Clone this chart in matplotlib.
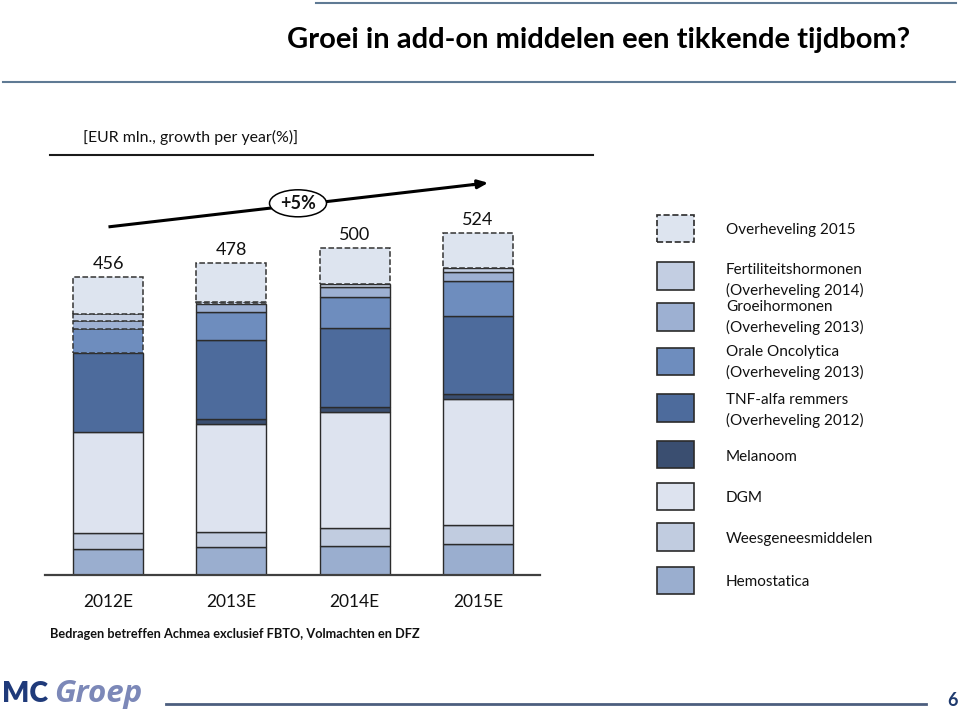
import matplotlib
matplotlib.use("Agg")
import matplotlib.pyplot as plt
from matplotlib.patches import Rectangle, Ellipse
from matplotlib.lines import Line2D
import numpy as np

plt.rcParams['font.family'] = ['Lato', 'DejaVu Sans']

# ---------------- data ----------------
years = ["2012E", "2013E", "2014E", "2015E"]
totals = [456, 478, 500, 524]

hemostatica = [39.4, 42.4, 44.4, 47.5]
weesgenees = [24.5, 23.9, 27.1, 28.6]
dgm = [155.7, 165.0, 177.7, 193.5]
melanoom = [0.0, 8.3, 8.6, 7.7]
tnf = [120.1, 120.0, 120.1, 120.0]
orale = [37.2, 42.9, 48.4, 53.6]
groei = [12.7, 13.3, 14.4, 13.8]
fertil = [10.3, 2.0, 4.6, 5.2]
overh2015 = [56.2, 60.2, 55.2, 54.1]

series = [
    ("Hemostatica", hemostatica, "#9AAECF"),
    ("Weesgeneesmiddelen", weesgenees, "#C1CCE0"),
    ("DGM", dgm, "#DDE3EF"),
    ("Melanoom", melanoom, "#3A4E70"),
    ("TNF-alfa remmers\n(Overheveling 2012)", tnf, "#4D6B9C"),
    ("Orale Oncolytica\n(Overheveling 2013)", orale, "#6E8DBE"),
    ("Groeihormonen\n(Overheveling 2013)", groei, "#9DB0D2"),
    ("Fertiliteitshormonen\n(Overheveling 2014)", fertil, "#C3CEE2"),
    ("Overheveling 2015", overh2015, "#DDE4EF"),
]
# which segments are drawn dashed (not yet transferred)
dashed = {
    "Orale Oncolytica\n(Overheveling 2013)": [True, False, False, False],
    "Groeihormonen\n(Overheveling 2013)": [True, False, False, False],
    "Fertiliteitshormonen\n(Overheveling 2014)": [True, True, False, False],
    "Overheveling 2015": [True, True, True, True],
}

W, H = 960, 711
fig = plt.figure(figsize=(9.6, 7.11), dpi=100)

def fx(x):
    return x / W

def fy(y):
    return 1 - y / H

# ---------------- axes ----------------
ax_l, ax_r, ax_b, ax_t = 45, 540, 575, 170
ax = fig.add_axes([fx(ax_l), fy(ax_b), (ax_r - ax_l) / W, (ax_b - ax_t) / H])
ax.set_xlim(-0.511, 3.503)
ax.set_ylim(0, 405 * 1.532)
for s in ["top", "right", "left"]:
    ax.spines[s].set_visible(False)
ax.spines["bottom"].set_color("#404040")
ax.spines["bottom"].set_linewidth(1.6)
ax.set_yticks([])
x = np.arange(len(years))
ax.set_xticks(x)
ax.set_xticklabels(years, fontsize=12.5, color="#111111")
ax.tick_params(axis="x", length=0, pad=14)

bw = 0.568
bottom = np.zeros(len(years))
for name, vals, col in series:
    vals = np.array(vals, dtype=float)
    dl = dashed.get(name, [False] * len(years))
    for i in range(len(years)):
        if vals[i] <= 0:
            continue
        ax.bar(x[i], vals[i], bw, bottom=bottom[i], color=col,
               edgecolor="#2b2b2b" if not dl[i] else "#333333",
               linewidth=1.0 if not dl[i] else 1.1,
               linestyle="--" if dl[i] else "-", zorder=2)
    bottom += vals

for i, t in enumerate(totals):
    ax.annotate(str(t), xy=(x[i], bottom[i]), xytext=(0, 6),
                textcoords="offset points", ha="center", va="baseline",
                fontsize=13, color="#111111")

# growth arrow
fig.add_artist(Line2D([fx(110), fx(480)], [fy(226.7), fy(183.8)],
                      color="black", lw=2.2))
ax.annotate("", xy=(fx(491), fy(182.5)), xytext=(fx(470), fy(185)),
            xycoords=fig.transFigure, textcoords=fig.transFigure,
            arrowprops=dict(arrowstyle="-|>,head_length=0.6,head_width=0.25",
                            color="black", lw=2.2))
fig.add_artist(Ellipse((fx(298), fy(203.3)), 57 / W, 27 / H,
                       transform=fig.transFigure, facecolor="white",
                       edgecolor="black", lw=1.1, zorder=5))
fig.text(fx(298), fy(203.3), "+5%", ha="center", va="center",
         fontsize=13, fontweight="bold", color="#111111", zorder=6)

# ---------------- legend ----------------
leg_items = [
    ("Overheveling 2015", "#DDE4EF", True, 215),
    ("Fertiliteitshormonen\n(Overheveling 2014)", "#C3CEE2", False, 262.3),
    ("Groeihormonen\n(Overheveling 2013)", "#9DB0D2", False, 303.3),
    ("Orale Oncolytica\n(Overheveling 2013)", "#6E8DBE", False, 347.7),
    ("TNF-alfa remmers\n(Overheveling 2012)", "#4D6B9C", False, 394.3),
    ("Melanoom", "#3A4E70", False, 441),
    ("DGM", "#DDE3EF", False, 482.7),
    ("Weesgeneesmiddelen", "#C1CCE0", False, 523.3),
    ("Hemostatica", "#9AAECF", False, 566.7),
]
text_y = {
    "Overheveling 2015": [230],
    "Fertiliteitshormonen\n(Overheveling 2014)": [270, 290],
    "Groeihormonen\n(Overheveling 2013)": [307.3, 327.7],
    "Orale Oncolytica\n(Overheveling 2013)": [351.7, 372.3],
    "TNF-alfa remmers\n(Overheveling 2012)": [400, 420.7],
    "Melanoom": [456.7],
    "DGM": [498.3],
    "Weesgeneesmiddelen": [539],
    "Hemostatica": [582.3],
}
for name, col, dsh, ytop in leg_items:
    fig.add_artist(Rectangle((fx(657), fy(ytop + 27.3)), 37 / W, 27.3 / H,
                             transform=fig.transFigure, facecolor=col,
                             edgecolor="#2b2b2b", lw=1.2,
                             linestyle="--" if dsh else "-"))
    for line, yy in zip(name.split("\n"), text_y[name]):
        fig.text(fx(726), fy(yy), line, ha="left", va="center",
                 fontsize=11, color="#111111")

# ---------------- header / footer ----------------
fig.add_artist(Line2D([fx(316), fx(956)], [fy(2.5), fy(2.5)], color="#5f7a94", lw=1.5))
fig.text(fx(599), fy(40), "Groei in add-on middelen een tikkende tijdbom?",
         ha="center", va="center", fontsize=21, fontweight="bold", color="black")
fig.add_artist(Line2D([fx(3), fx(955)], [fy(81.5), fy(81.5)], color="#5f7a94", lw=1.5))
fig.text(fx(83), fy(137), "[EUR mln., growth per year(%)]", ha="left", va="center",
         fontsize=11.4, color="#111111")
fig.add_artist(Line2D([fx(50), fx(593)], [fy(155), fy(155)], color="#1a1a1a", lw=1.5))

fig.text(fx(50), fy(634), "Bedragen betreffen Achmea exclusief FBTO, Volmachten en DFZ",
         ha="left", va="center", fontsize=9.2, fontweight="bold", color="#111111")

fig.text(fx(2), fy(694), "MC", ha="left", va="center", fontsize=20.5,
         fontweight="heavy", color="#1F3A7A")
fig.text(fx(54), fy(694), "Groep", ha="left", va="center", fontsize=22.5,
         fontweight="bold", fontstyle="italic", color="#7C88B8",
         family=["Open Sans", "DejaVu Sans"])
fig.add_artist(Line2D([fx(166), fx(926)], [fy(704), fy(704)], color="#4c5e7e", lw=2))
fig.text(fx(953), fy(700), "6", ha="center", va="center", fontsize=13,
         fontweight="bold", color="#1F3A6E")

fig.savefig("out.png", dpi=100)
